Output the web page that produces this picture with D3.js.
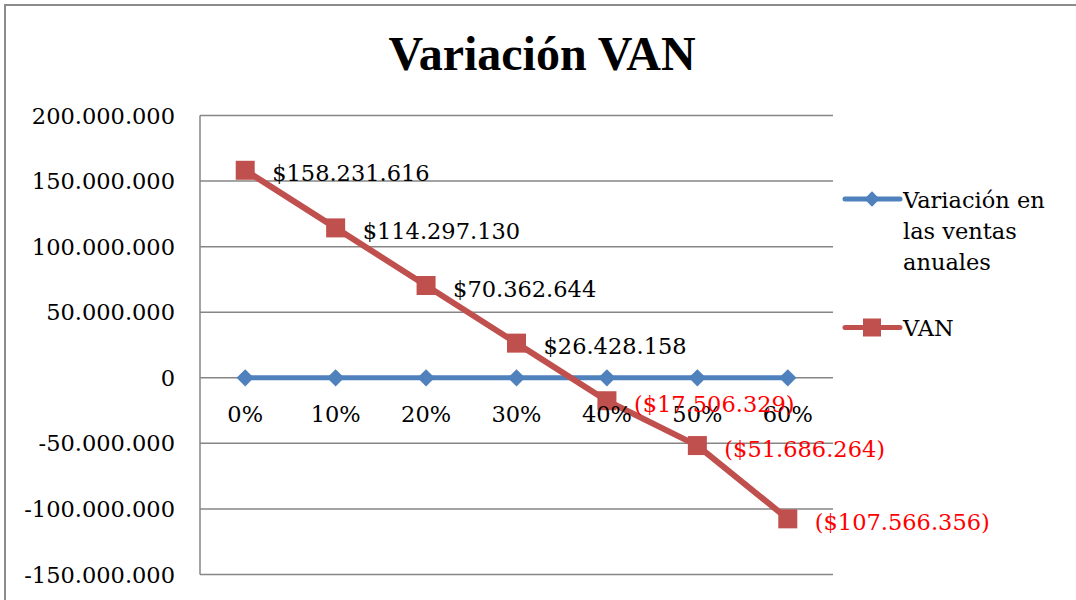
<!DOCTYPE html>
<html><head><meta charset="utf-8">
<script src="https://cdn.jsdelivr.net/npm/d3@7"></script>
<style>body{margin:0;background:#fff;} svg{display:block;}</style>
</head><body>
<svg id="chart" width="1076" height="600"></svg>
<script>
const categories = ["0%","10%","20%","30%","40%","50%","60%"];
const ventasValues = [0,0,0,0,0,0,0];
const vanValues = [158231616,114297130,70362644,26428158,-17506329,-51686264,-107566356];
const vanLabels = ["$158.231.616","$114.297.130","$70.362.644","$26.428.158","($17.506.329)","($51.686.264)","($107.566.356)"];
const yTicks = [200000000,150000000,100000000,50000000,0,-50000000,-100000000,-150000000];
const seriesNames = ["Variación en las ventas anuales","VAN"];
const title = "Variación VAN";

const svg = d3.select("#chart");
const font = "'DejaVu Serif', serif";
const fs = 22.5;
const blue = "#4F81BD", red = "#C0504D";

// outer border
svg.append("rect").attr("x",5).attr("y",5).attr("width",1090).attr("height",620)
  .attr("fill","none").attr("stroke","#8c8c8c").attr("stroke-width",2);

const pLeft=200, pRight=833, pTop=115.5, pBottom=574.5;
const x = d3.scaleBand().domain(categories).range([pLeft,pRight]);
const y = d3.scaleLinear().domain([-150000000,200000000]).range([pBottom,pTop]);

// title
svg.append("text").attr("x",542).attr("y",70).attr("text-anchor","middle")
  .attr("font-family","'Liberation Serif', serif").attr("font-weight","bold").attr("font-size",48)
  .text(title);

// gridlines
svg.append("g").selectAll("line").data(yTicks).join("line")
  .attr("x1",pLeft).attr("x2",pRight).attr("y1",d=>y(d)).attr("y2",d=>y(d))
  .attr("stroke","#868686").attr("stroke-width",1.5);
// y axis line
svg.append("line").attr("x1",pLeft).attr("x2",pLeft).attr("y1",pTop).attr("y2",pBottom)
  .attr("stroke","#868686").attr("stroke-width",1.5);

// y tick labels
const fmt = v => d3.format(",")(v).replace(/,/g,".").replace("−","-");
svg.append("g").selectAll("text").data(yTicks).join("text")
  .attr("x",175).attr("y",d=>y(d)+8).attr("text-anchor","end")
  .attr("font-family",font).attr("font-size",fs).attr("fill","#000")
  .text(d=>fmt(d));

// blue series
const lineGen = d3.line().x((d,i)=>x(categories[i])+x.bandwidth()/2).y(d=>y(d));
svg.append("path").datum(ventasValues).attr("d",lineGen).attr("fill","none")
  .attr("stroke",blue).attr("stroke-width",5).attr("stroke-linejoin","round");
const diamond = d3.symbol().type(d3.symbolDiamond2).size(190);
svg.append("g").selectAll("path").data(ventasValues).join("path")
  .attr("d",diamond)
  .attr("transform",(d,i)=>`translate(${x(categories[i])+x.bandwidth()/2},${y(d)})`)
  .attr("fill",blue);

// red series
svg.append("path").datum(vanValues).attr("d",lineGen).attr("fill","none")
  .attr("stroke",red).attr("stroke-width",6).attr("stroke-linejoin","round");
svg.append("g").selectAll("rect").data(vanValues).join("rect")
  .attr("x",(d,i)=>x(categories[i])+x.bandwidth()/2-9.5).attr("y",d=>y(d)-9.5)
  .attr("width",19).attr("height",19).attr("fill",red);

// x tick labels
svg.append("g").selectAll("text").data(categories).join("text")
  .attr("x",d=>x(d)+x.bandwidth()/2).attr("y",y(0)+44).attr("text-anchor","middle")
  .attr("font-family",font).attr("font-size",fs).attr("fill","#000")
  .text(d=>d);

// data labels
svg.append("g").selectAll("text").data(vanValues).join("text")
  .attr("x",(d,i)=>x(categories[i])+x.bandwidth()/2+27).attr("y",d=>y(d)+11)
  .attr("font-family",font).attr("font-size",fs)
  .attr("fill",d=>d<0?"#FF0000":"#000")
  .text((d,i)=>vanLabels[i]);

// legend
const lg = svg.append("g");
lg.append("line").attr("x1",845).attr("x2",900).attr("y1",199).attr("y2",199)
  .attr("stroke",blue).attr("stroke-width",5).attr("stroke-linecap","round");
lg.append("path").attr("d",d3.symbol().type(d3.symbolDiamond2).size(150))
  .attr("transform","translate(872,199)").attr("fill",blue);
const t1 = lg.append("text").attr("font-family",font).attr("font-size",fs).attr("fill","#000");
["Variación en","las ventas","anuales"].forEach((s,i)=>{
  t1.append("tspan").attr("x",903).attr("y",208+i*31).text(s);
});
lg.append("line").attr("x1",845).attr("x2",900).attr("y1",327.5).attr("y2",327.5)
  .attr("stroke",red).attr("stroke-width",5).attr("stroke-linecap","round");
lg.append("rect").attr("x",863).attr("y",318.5).attr("width",18).attr("height",18).attr("fill",red);
lg.append("text").attr("x",903).attr("y",336).attr("font-family",font).attr("font-size",fs)
  .attr("fill","#000").text(seriesNames[1]);
</script>
</body></html>
